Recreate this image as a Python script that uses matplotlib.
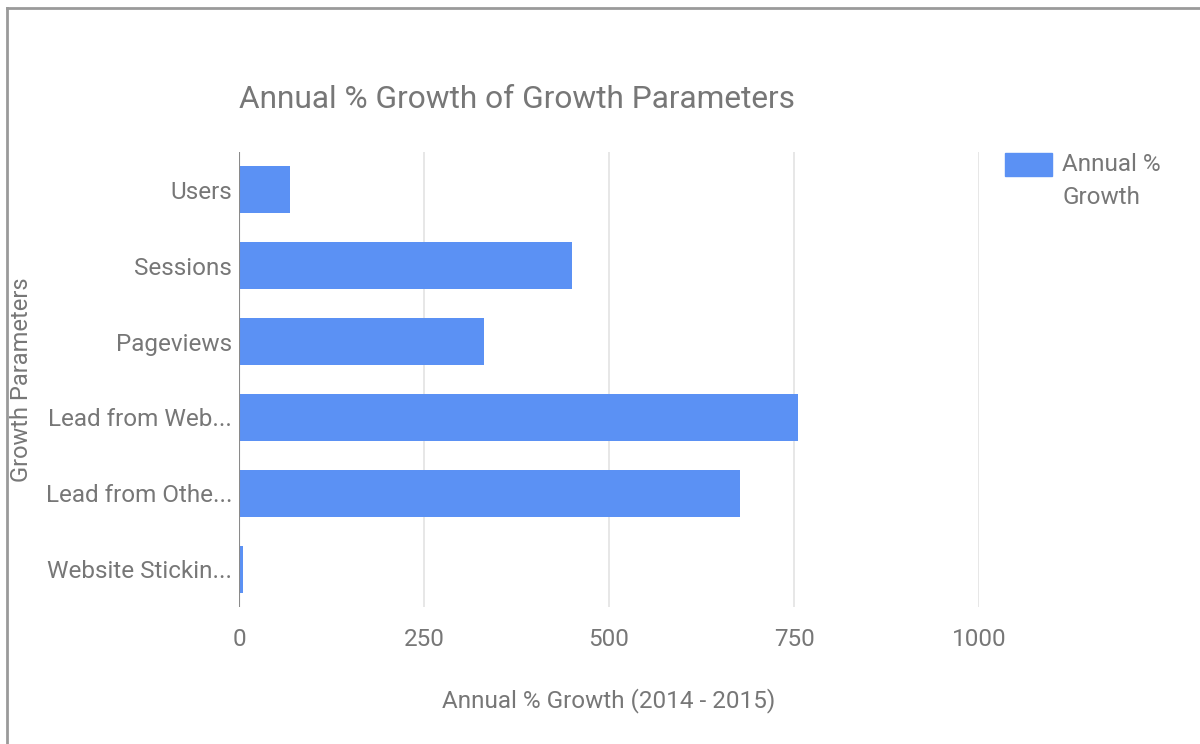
import matplotlib
matplotlib.use("Agg")
import matplotlib.pyplot as plt
from matplotlib.lines import Line2D
from matplotlib.patches import Rectangle

categories = ["Users", "Sessions", "Pageviews", "Lead from Web...",
              "Lead from Othe...", "Website Stickin..."]
growth = [69, 450, 331, 755, 677, 5]
x_ticks = [0, 250, 500, 750, 1000]
x_tick_labels = ["0", "250", "500", "750", "1000"]
series_name = "Annual %\nGrowth"

BAR = "#5b91f4"
TEXT = "#777777"
GRID = "#e3e3e3"

plt.rcParams["font.family"] = ["Roboto", "DejaVu Sans"]

fig = plt.figure(figsize=(12, 7.44), dpi=100)
ax = fig.add_axes([239 / 1200, 1 - 607 / 744, 740 / 1200, 455 / 744])

ypos = list(range(len(categories)))
ax.barh(ypos, growth, height=0.62, color=BAR, zorder=3)
ax.set_ylim(len(categories) - 0.5, -0.5)
ax.set_xlim(0, 1000)

ax.set_xticks(x_ticks)
ax.set_xticklabels(x_tick_labels)
ax.set_yticks(ypos)
ax.set_yticklabels(categories)
ax.tick_params(axis="both", length=0, colors=TEXT, labelsize=17.5)
ax.tick_params(axis="x", pad=15)
ax.tick_params(axis="y", pad=5)

for v in x_ticks[1:]:
    ax.axvline(v, color=GRID, lw=1.2, zorder=1)
ax.axvline(0, color="#8a8a8a", lw=1.5, zorder=4)

for s in ax.spines.values():
    s.set_visible(False)

ax.set_xlabel("Annual % Growth (2014 - 2015)", color=TEXT, fontsize=17.5, labelpad=27)
fig.text(22 / 1200, 1 - 380 / 744, "Growth Parameters", rotation=90, color=TEXT,
         fontsize=17, ha="center", va="center")

fig.text(239 / 1200, 1 - 100 / 744, "Annual % Growth of Growth Parameters",
         color=TEXT, fontsize=22.8, ha="left", va="center")

# legend
fig.add_artist(Rectangle((1005 / 1200, 1 - 176 / 744), 47 / 1200, 23 / 744,
                         color=BAR, transform=fig.transFigure))
fig.text(1062 / 1200, 1 - 153 / 744, series_name, color=TEXT, fontsize=17.5,
         ha="left", va="top", linespacing=1.55)

# outer frame
fig.add_artist(Line2D([7 / 1200, 7 / 1200], [0, 1 - 8 / 744], color="#9a9a9a", lw=2,
                      transform=fig.transFigure))
fig.add_artist(Line2D([7 / 1200, 1], [1 - 8 / 744, 1 - 8 / 744], color="#9a9a9a", lw=2,
                      transform=fig.transFigure))

fig.savefig("out.png", dpi=100)
